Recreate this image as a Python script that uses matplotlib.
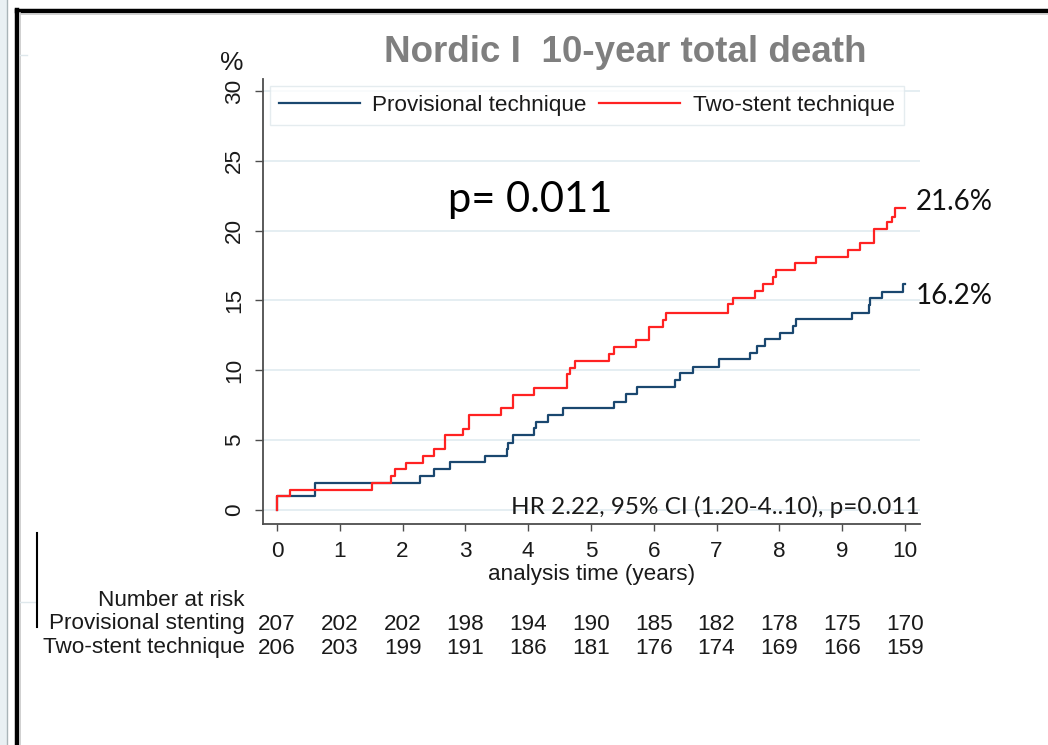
import matplotlib
matplotlib.use("Agg")
import matplotlib.pyplot as plt
from matplotlib.lines import Line2D
from matplotlib.patches import Rectangle
from matplotlib.transforms import blended_transform_factory

# Kaplan-Meier curves (years, cumulative % dead)
prov_t = [0, 0, 0.60, 2.28, 2.50, 2.75, 3.31, 3.66, 3.68, 3.76, 4.09, 4.13, 4.32, 4.56,
          5.36, 5.56, 5.74, 6.34, 6.41, 6.62, 7.04, 7.53, 7.64, 7.77, 8.01, 8.22, 8.26,
          9.15, 9.43, 9.45, 9.63, 9.97, 10.0]
prov_y = [0, 0.97, 1.95, 2.43, 2.91, 3.43, 3.87, 4.35, 4.83, 5.35, 5.85, 6.32, 6.80, 7.33,
          7.75, 8.28, 8.80, 9.30, 9.79, 10.26, 10.80, 11.26, 11.74, 12.22, 12.70, 13.15, 13.65,
          14.10, 14.65, 15.15, 15.60, 16.20, 16.20]

two_t = [0, 0, 0.20, 1.51, 1.82, 1.88, 2.06, 2.33, 2.50, 2.68, 2.97, 3.05, 3.56, 3.76,
         4.09, 4.62, 4.67, 4.74, 5.28, 5.37, 5.72, 5.92, 6.15, 6.20, 7.19, 7.26, 7.61, 7.74,
         7.90, 7.95, 8.25, 8.58, 9.10, 9.28, 9.50, 9.71, 9.79, 9.84, 10.0]
two_y = [0, 0.97, 1.46, 1.94, 2.43, 2.91, 3.40, 3.88, 4.37, 5.34, 5.83, 6.80, 7.28, 8.25,
         8.74, 9.71, 10.19, 10.68, 11.17, 11.65, 12.14, 13.11, 13.59, 14.08, 14.75, 15.20, 15.70, 16.20,
         16.70, 17.20, 17.70, 18.10, 18.60, 19.10, 20.10, 20.60, 21.00, 21.60, 21.60]

risk_years = list(range(11))
risk_prov = [207, 202, 202, 198, 194, 190, 185, 182, 178, 175, 170]
risk_two = [206, 203, 199, 191, 186, 181, 176, 174, 169, 166, 159]

W, H = 1048, 745
def fx(x):
    return x / W
def fy(y):
    return 1 - y / H

fig = plt.figure(figsize=(W / 100, H / 100), dpi=100)
fig.patch.set_facecolor("white")
arial = "Liberation Sans"
cal = "Lato"
txt = "#1a1a1a"
fs = 16.2

# slide frame bits
fig.add_artist(Rectangle((0, 0), fx(7), 1, transform=fig.transFigure,
                         facecolor="#e9f0f3", edgecolor="none"))
fig.add_artist(Line2D([fx(7), fx(7)], [0, 1], color="#a9b4b8", lw=1))
fig.add_artist(Line2D([fx(16.5), fx(16.5)], [0, fy(10)], color="black", lw=3.2))
fig.add_artist(Line2D([fx(16.5), 1], [fy(11), fy(11)], color="black", lw=3.2))
fig.add_artist(Line2D([fx(19.5), fx(19.5)], [0, fy(13)], color="#c8c8c8", lw=1.2))
fig.add_artist(Line2D([fx(19.5), 1], [fy(14), fy(14)], color="#c8c8c8", lw=1.2))
fig.add_artist(Line2D([fx(20), fx(27)], [fy(55), fy(55)], color="#dfe8ec", lw=1))
fig.add_artist(Line2D([fx(20), fx(35)], [fy(602), fy(602)], color="#dfe8ec", lw=1))
fig.add_artist(Line2D([fx(37), fx(37)], [fy(533), fy(627)], color="black", lw=1.5))

ax = fig.add_axes([fx(263), fy(524), (920 - 263) / W, (524 - 79) / H])
ax.set_xlim(-0.223, 10.24)
ax.set_ylim(-1.0, 30.85)

ax.step(prov_t, prov_y, where="post", color="#1a476f", lw=1.6, label="Provisional technique", zorder=3)
ax.step(two_t, two_y, where="post", color="#ff2222", lw=1.6, label="Two-stent technique", zorder=4)

ax.set_yticks(range(0, 31, 5))
ax.set_xticks(range(11))
ax.grid(axis="y", color="#e3edf1", lw=1.3)
ax.set_axisbelow(True)
for s in ["top", "right"]:
    ax.spines[s].set_visible(False)
for s in ["left", "bottom"]:
    ax.spines[s].set_color("#4d4d4d")
    ax.spines[s].set_linewidth(1.3)
ax.tick_params(axis="y", length=6, width=1, color="#4d4d4d", pad=7, labelsize=fs,
               labelcolor=txt, labelrotation=90)
for lab in ax.get_yticklabels():
    lab.set_verticalalignment("center")
    lab.set_family(arial)
ax.tick_params(axis="x", length=5, width=1, color="#4d4d4d", pad=7, labelsize=fs,
               labelcolor=txt)
for lab in ax.get_xticklabels():
    lab.set_family(arial)
ax.set_xlabel("analysis time (years)", fontsize=fs, family=arial, color=txt, labelpad=2)

leg = ax.legend(loc="upper left", bbox_to_anchor=(fx(270), fy(86)), bbox_transform=fig.transFigure,
                ncol=2, frameon=True, fancybox=False, borderaxespad=0, borderpad=0.4,
                handlelength=3.6, handletextpad=0.55, columnspacing=0.55,
                prop={"family": arial, "size": fs})
leg.get_frame().set_edgecolor("#dfe8ec")
leg.get_frame().set_linewidth(1)
for t in leg.get_texts():
    t.set_color(txt)

fig.text(fx(625), fy(52), "Nordic I  10-year total death", ha="center", va="center",
         fontsize=26.5, fontweight="bold", color="#7f7f7f", family=arial)
fig.text(fx(232), fy(63), "%", ha="center", va="center", fontsize=19, color=txt, family=arial)

fig.text(fx(448), fy(200), "p= 0.011", ha="left", va="center", fontsize=30, color="black", family=cal)
fig.text(fx(916), fy(202), "21.6%", ha="left", va="center", fontsize=20, color="#111111", family=cal)
fig.text(fx(916), fy(296), "16.2%", ha="left", va="center", fontsize=20, color="#111111", family=cal)
fig.text(fx(920), fy(507), "HR 2.22, 95% CI (1.20-4..10), p=0.011", ha="right", va="center",
         fontsize=17.5, color=txt, family=cal)

# number at risk table
tr = blended_transform_factory(ax.transData, fig.transFigure)
fig.text(fx(245), fy(600), "Number at risk", ha="right", va="center", fontsize=fs, color=txt, family=arial)
fig.text(fx(245), fy(624), "Provisional stenting", ha="right", va="center", fontsize=fs, color=txt, family=arial)
fig.text(fx(245), fy(648), "Two-stent technique", ha="right", va="center", fontsize=fs, color=txt, family=arial)
for yr, a, b in zip(risk_years, risk_prov, risk_two):
    ax.text(yr, fy(624), str(a), transform=tr, ha="center", va="center", fontsize=fs,
            color=txt, family=arial)
    ax.text(yr, fy(648), str(b), transform=tr, ha="center", va="center", fontsize=fs,
            color=txt, family=arial)

fig.savefig("out.png", dpi=100)
